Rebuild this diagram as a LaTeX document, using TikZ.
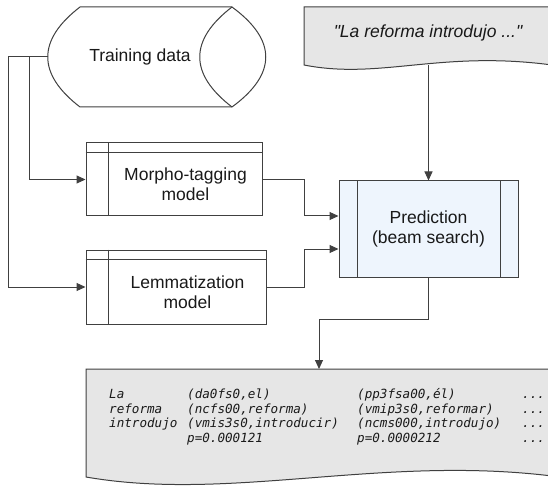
\documentclass[tikz,border=0pt]{standalone}
\usepackage{fontspec}
\setmainfont{Liberation Sans}
\newfontfamily\quotefont{Liberation Sans}[Ligatures=TeXOff]
\newfontfamily\tagfont{DejaVu Sans Mono}[ItalicFont={DejaVu Sans Mono Oblique}]
\usepackage{xcolor}
\usetikzlibrary{arrows.meta,calc,positioning}

\definecolor{linegray}{HTML}{404040}
\definecolor{docgray}{HTML}{E6E6E6}
\definecolor{predblue}{HTML}{EEF5FD}

\begin{document}
\begin{tikzpicture}[
    x=1pt, y=-1pt,
    every node/.style={font=\fontsize{17.5}{20}\selectfont, align=center, text=black!90},
    shapeline/.style={draw=linegray, line width=1pt},
    modelbox/.style={shapeline, rectangle, inner sep=0pt, minimum width=176pt, minimum height=73pt},
    arr/.style={draw=linegray, line width=1pt, -{Triangle[length=9pt,width=8pt]}},
    tagrow/.style={anchor=base west, inner sep=0pt, align=left, font=\tagfont\itshape\fontsize{12.6}{14.7}\selectfont}
]

\useasboundingbox (0,0) rectangle (548,486);

% training data store
\draw[shapeline, fill=white] (80,7) -- (232,7) .. controls (277,40) and (277,74) .. (232,107)
    -- (80,107) .. controls (37,74) and (37,40) .. (80,7) -- cycle;
\draw[shapeline] (232,7) .. controls (189,40) and (189,74) .. (232,107);
\coordinate (trainW) at (48,57);
\node (train) at (140,57) {Training data};

% input sentence
\draw[shapeline, fill=docgray] (304,7) -- (552,7) -- (552,65) .. controls (440,50) and (380,80) .. (304,65) -- cycle;
\node[font=\quotefont\fontsize{17.5}{20}\selectfont\itshape] (input) at (428,33) {"La reforma introdujo ..."};
\coordinate (inputS) at (428.5,65);

% models
\node[modelbox] (morpho) at (174,179.5) {};
\draw[shapeline] ($(morpho.north west)+(0,10)$) -- ($(morpho.north east)+(0,10)$)
    ($(morpho.north west)+(23,0)$) -- ($(morpho.south west)+(23,0)$);
\node (morphotext) at ($(morpho.center)+(11.5,5)$) {Morpho-tagging\\model};

\node[modelbox, minimum width=180pt, minimum height=74pt] (lemma) at (176,287) {};
\draw[shapeline] ($(lemma.north west)+(0,10)$) -- ($(lemma.north east)+(0,10)$)
    ($(lemma.north west)+(23,0)$) -- ($(lemma.south west)+(23,0)$);
\node (lemmatext) at ($(lemma.center)+(11.5,5.5)$) {Lemmatization\\model};

% prediction
\node[shapeline, fill=predblue, inner sep=0pt, minimum width=179pt, minimum height=96pt] (pred) at (428.5,229) {Prediction\\(beam search)};
\draw[shapeline] ($(pred.north west)+(19,0)$) -- ($(pred.south west)+(19,0)$)
    ($(pred.north east)+(-18,0)$) -- ($(pred.south east)+(-18,0)$);

% output analyses
\draw[shapeline, fill=docgray] (86,369) -- (552,369) -- (552,476) .. controls (380,455) and (230,502) .. (86,477) -- cycle;
\coordinate (outputN) at (319,369);
\node[tagrow] (row1) at (109,398.5) {\makebox[78pt][l]{La}\makebox[170pt][l]{(da0fs0,el)}\makebox[165pt][l]{(pp3fsa00,él)}...};
\node[tagrow] (row2) at ($(row1.base west)+(0,14.7)$) {\makebox[78pt][l]{reforma}\makebox[170pt][l]{(ncfs00,reforma)}\makebox[165pt][l]{(vmip3s0,reformar)}...};
\node[tagrow] (row3) at ($(row2.base west)+(0,14.7)$) {\makebox[78pt][l]{introdujo}\makebox[170pt][l]{(vmis3s0,introducir)}\makebox[165pt][l]{(ncms000,introdujo)}...};
\node[tagrow] (row4) at ($(row3.base west)+(0,14.7)$) {\makebox[78pt][l]{}\makebox[170pt][l]{p=0.000121}\makebox[165pt][l]{p=0.0000212}...};

% connectors
\draw[arr] (trainW) -- ++(-19,0) |- (morpho.west);
\draw[arr] (trainW) -- ++(-40,0) |- (lemma.west);
\draw[arr] (morpho.east) -- ++(42,0) |- ($(pred.west)+(0,-13)$);
\draw[arr] (lemma.east) -- ++(38,0) |- ($(pred.west)+(0,20)$);
\draw[arr] (inputS) -- (pred.north);
\draw[arr] (pred.south) -- ++(0,42) -| (outputN);

\end{tikzpicture}
\end{document}
